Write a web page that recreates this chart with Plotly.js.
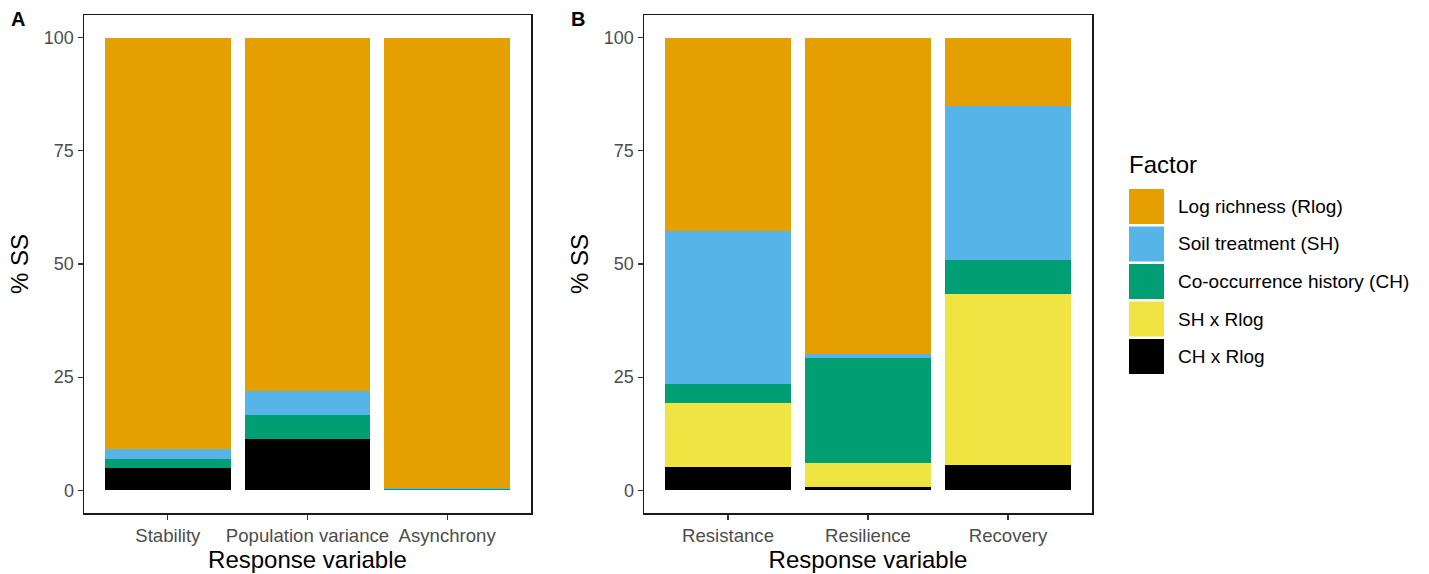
<!DOCTYPE html>
<html>
<head>
<meta charset="utf-8">
<script src="https://cdn.plot.ly/plotly-3.0.1.min.js"></script>
<style>html,body{margin:0;padding:0;background:#fff;}#chart{width:1429px;height:574px;}</style>
</head>
<body>
<div id="chart"></div>
<script>
// ---- Data ----
const catsA = ["Stability", "Population variance", "Asynchrony"];
const catsB = ["Resistance", "Resilience", "Recovery"];
const factors = ["Log richness (Rlog)", "Soil treatment (SH)", "Co-occurrence history (CH)", "SH x Rlog", "CH x Rlog"];
const colors = ["#E69F00", "#56B4E9", "#009E73", "#F0E442", "#000000"];
// % SS per factor (same order as factors)
const rlogA = [90.9, 78.0, 99.5];
const shA   = [2.1, 5.3, 0.15];
const chA   = [2.0, 5.3, 0.35];
const shxA  = [0, 0, 0];
const chxA  = [5.0, 11.4, 0];
const rlogB = [42.7, 69.8, 15.0];
const shB   = [33.9, 0.9, 34.1];
const chB   = [4.0, 23.3, 7.5];
const shxB  = [14.3, 5.3, 37.7];
const chxB  = [5.1, 0.7, 5.7];
const yTicks = [0, 25, 50, 75, 100];

const W = 1429, H = 574, mt = 15, mb = 61;
const plotH = H - mt - mb;
const px = x => x / W;
const py = y => (H - mb - y) / plotH;

const valsA = [rlogA, shA, chA, shxA, chxA];
const valsB = [rlogB, shB, chB, shxB, chxB];
const traces = [];
// stack bottom-up: CH x Rlog, SH x Rlog, CH, SH, Rlog
for (let i = factors.length - 1; i >= 0; i--) {
  traces.push({type: "bar", x: catsA, y: valsA[i], name: factors[i], marker: {color: colors[i], line: {width: 0}},
    width: 0.9, xaxis: "x", yaxis: "y", showlegend: false, hoverinfo: "x+y+name"});
  traces.push({type: "bar", x: catsB, y: valsB[i], name: factors[i], marker: {color: colors[i], line: {width: 0}},
    width: 0.9, xaxis: "x2", yaxis: "y2", showlegend: false, hoverinfo: "x+y+name"});
}

const fontFam = "Liberation Sans, Arial, sans-serif";
function xax(domain, cats) {
  return {domain: domain, type: "category", categoryarray: cats, range: [-0.6, 2.6],
    showline: true, mirror: true, linecolor: "#1a1a1a", linewidth: 1.5,
    ticks: "outside", ticklen: 5, tickcolor: "#333", tickwidth: 1.3,
    tickfont: {size: 18.6, color: "#4d4d4d", family: fontFam},
    showgrid: false, zeroline: false, fixedrange: true,
    title: {text: "Response variable", font: {size: 24, color: "#000", family: fontFam}, standoff: 0}};
}
function yax(anchor) {
  return {domain: [0, 1], anchor: anchor, range: [-5, 105], tickvals: yTicks, ticktext: yTicks.map(String),
    showline: true, mirror: true, linecolor: "#1a1a1a", linewidth: 1.5,
    ticks: "outside", ticklen: 5, tickcolor: "#333", tickwidth: 1.3,
    tickfont: {size: 18, color: "#4d4d4d", family: fontFam},
    showgrid: false, zeroline: false, fixedrange: true,
    title: {text: "% SS", font: {size: 24, color: "#000", family: fontFam}, standoff: 8}};
}

const shapes = [], annotations = [];
annotations.push({text: "<b>A</b>", x: px(9), y: py(19), xref: "paper", yref: "paper", xanchor: "left", yanchor: "middle", showarrow: false, font: {size: 20, color: "#000", family: fontFam}});
annotations.push({text: "<b>B</b>", x: px(569), y: py(19), xref: "paper", yref: "paper", xanchor: "left", yanchor: "middle", showarrow: false, font: {size: 20, color: "#000", family: fontFam}});
annotations.push({text: "Factor", x: px(1127), y: py(165), xref: "paper", yref: "paper", xanchor: "left", yanchor: "middle", showarrow: false, font: {size: 24, color: "#000", family: fontFam}});
const keyTop = 189, keyStep = 37.5, keySize = 35;
factors.forEach((f, i) => {
  const t = keyTop + i * keyStep;
  shapes.push({type: "rect", xref: "paper", yref: "paper", x0: px(1129), x1: px(1129 + keySize), y0: py(t + keySize), y1: py(t),
    fillcolor: colors[i], line: {width: 0}, layer: "above"});
  annotations.push({text: f, x: px(1176), y: py(t + keySize / 2), xref: "paper", yref: "paper", xanchor: "left", yanchor: "middle",
    showarrow: false, font: {size: 19, color: "#000", family: fontFam}});
});

const layout = {
  width: W, height: H, margin: {l: 0, r: 0, t: mt, b: mb},
  paper_bgcolor: "#fff", plot_bgcolor: "#fff",
  barmode: "stack", bargap: 0.1,
  xaxis: xax([px(84), px(531)], catsA),
  yaxis: yax("x"),
  xaxis2: xax([px(644), px(1092)], catsB),
  yaxis2: yax("x2"),
  shapes: shapes, annotations: annotations,
  font: {family: fontFam}
};
Plotly.newPlot("chart", traces, layout, {displayModeBar: false, staticPlot: true});
</script>
</body>
</html>
